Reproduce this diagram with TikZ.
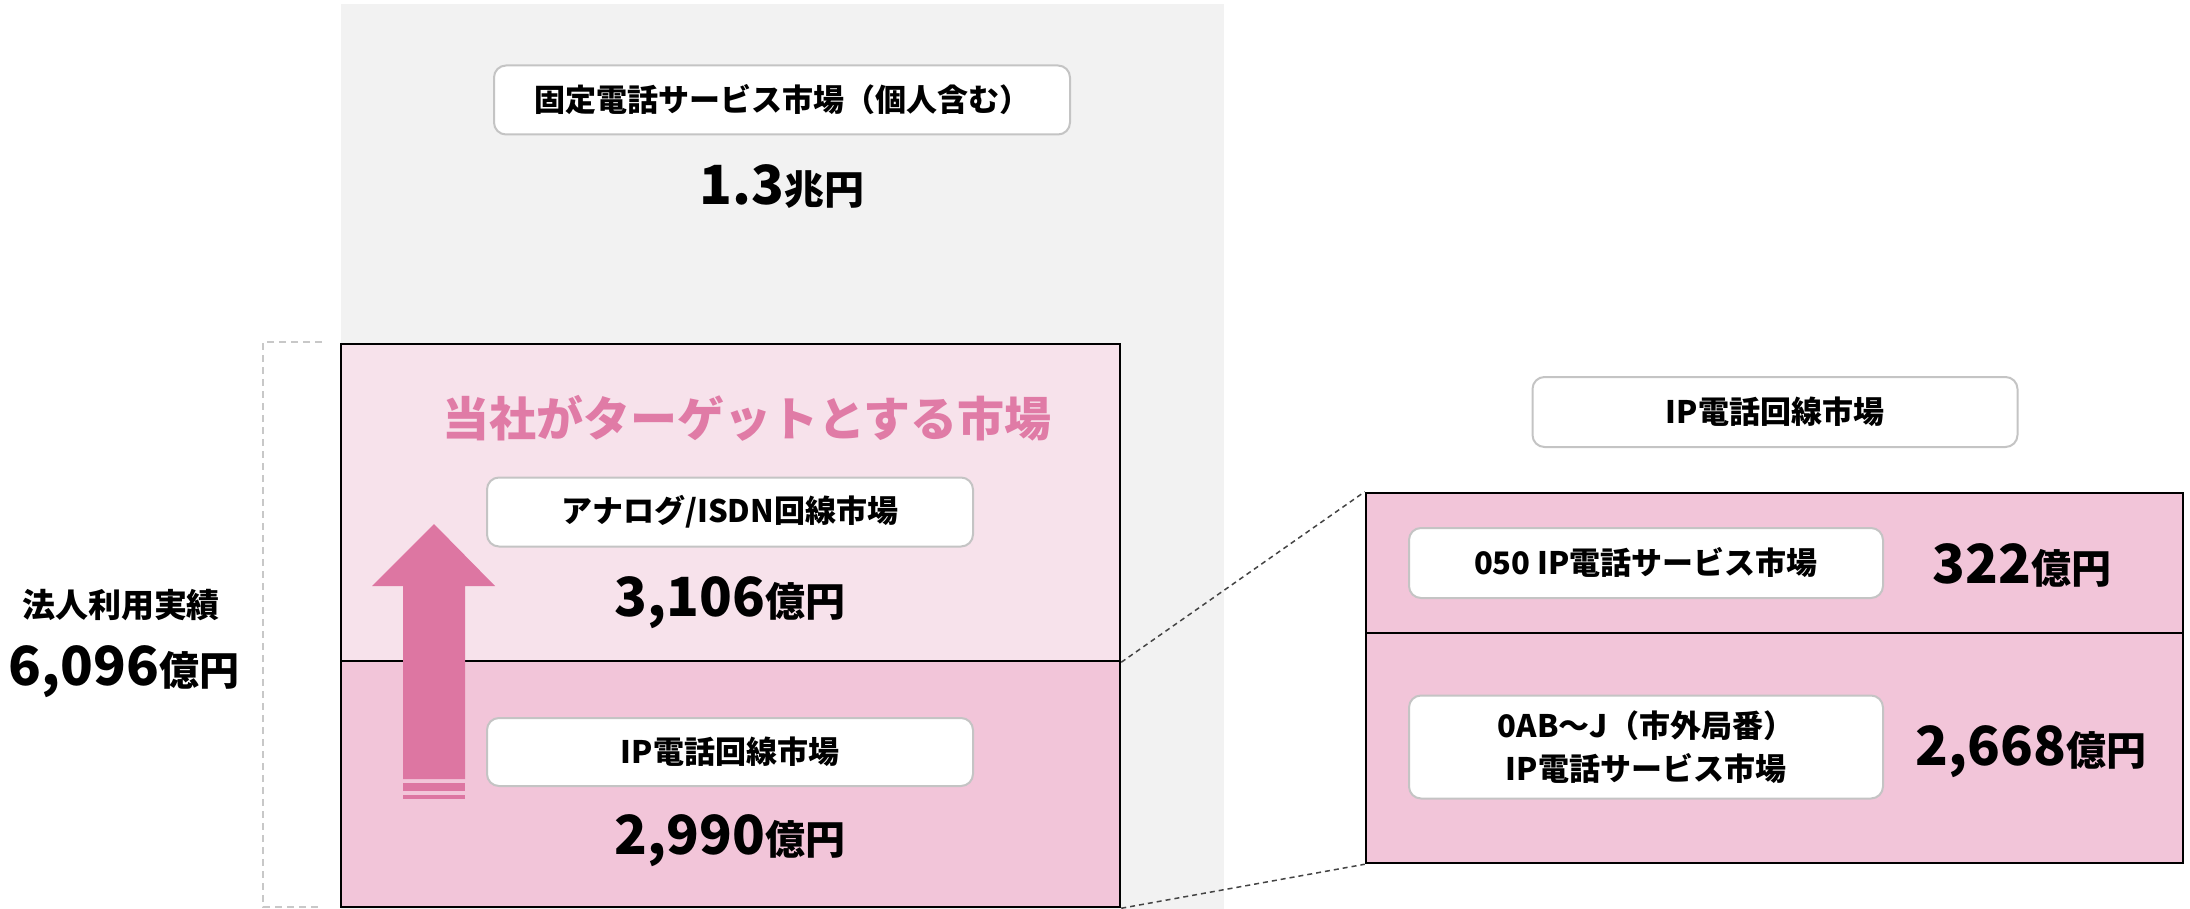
\documentclass[tikz,border=0pt]{standalone}
\usepackage{fontspec}
\setmainfont{Noto Sans CJK JP}
\definecolor{bggray}{HTML}{F2F2F2}
\definecolor{pinklight}{HTML}{F7E2EB}
\definecolor{pinkmid}{HTML}{F2C5D9}
\definecolor{arrowpink}{HTML}{DD76A2}
\definecolor{titlepink}{HTML}{E07BA6}
\definecolor{boxgray}{HTML}{C4C4C4}
\definecolor{brgray}{HTML}{C8C8C8}
\definecolor{conngray}{HTML}{444444}
\newcommand{\munit}[1]{{\fontsize{40}{44}\selectfont #1}}
\tikzset{
  lbl/.style={draw=boxgray, line width=2pt, fill=white, rounded corners=12pt,
    font=\bfseries\fontsize{31}{43}\selectfont, align=center, inner sep=0pt},
  region/.style={draw=black, line width=2.5pt, inner sep=0pt},
  bignum/.style={font=\bfseries\fontsize{54}{60}\selectfont, inner sep=0pt},
  plain/.style={inner sep=0pt},
  conn/.style={draw=conngray, line width=1.5pt, dash pattern=on 5pt off 4pt},
  bracket/.style={draw=brgray, line width=1.5pt, dash pattern=on 7pt off 5pt},
}
\begin{document}
\begin{tikzpicture}[x=1pt,y=-1pt]
\useasboundingbox[fill=white] (0,0) rectangle (2190,909);
% gray background
\fill[bggray] (341,4) rectangle (1224,909);
\node[lbl, minimum width=576pt, minimum height=69pt] (fixed) at (782,100) {固定電話サービス市場（個人含む）};
\node[bignum] (v13) at (782,187) {1.3\munit{兆円}};
% left bracket
\coordinate (bt) at (322,342);
\coordinate (bb) at (322,907);
\draw[bracket] (bt) -- (263,342) -- (263,907) -- (bb);
\node[plain, font=\bfseries\fontsize{33}{36}\selectfont] (hojin) at (121,605) {法人利用実績};
\node[bignum] (v6096) at (124,672) {6,096\munit{億円}};
% main target box
\node[region, fill=pinklight, minimum width=779pt, minimum height=317pt] (upper) at (730.5,502.5) {};
\node[region, fill=pinkmid, minimum width=779pt, minimum height=246pt] (lower) at (730.5,784) {};
% arrow
\fill[arrowpink] (434,524) -- (495,586) -- (465,586) -- (465,779) -- (403,779) -- (403,586) -- (372,586) -- cycle;
\fill[arrowpink] (403,783) rectangle (465,791);
\fill[arrowpink] (403,795) rectangle (465,799);
\node[plain, text=titlepink, font=\bfseries\fontsize{47}{52}\selectfont] (target) at (747,418) {当社がターゲットとする市場};
\node[lbl, minimum width=486pt, minimum height=69pt] (analog) at (730,512) {アナログ/ISDN回線市場};
\node[bignum] (v3106) at (730,603) {3,106\munit{億円}};
\node[lbl, minimum width=486pt, minimum height=68pt] (ipline) at (730,752) {IP電話回線市場};
\node[bignum] (v2990) at (730,841) {2,990\munit{億円}};
% right side
\node[lbl, minimum width=485pt, minimum height=70pt] (iphead) at (1775,412) {IP電話回線市場};
\node[region, fill=pinkmid, minimum width=817pt, minimum height=140pt] (r050) at (1774.5,563) {};
\node[region, fill=pinkmid, minimum width=817pt, minimum height=230pt] (r0ab) at (1774.5,748) {};
\node[lbl, minimum width=474pt, minimum height=70pt] (l050) at (1646,563) {050 IP電話サービス市場};
\node[bignum] (v322) at (2022,565) {322\munit{億円}};
\node[lbl, minimum width=474pt, minimum height=103pt] (l0ab) at (1646,747) {0AB～J（市外局番）\\IP電話サービス市場};
\node[bignum] (v2668) at (2031,752) {2,668\munit{億円}};
% connectors
\draw[conn] (upper.south east) -- (r050.north west);
\draw[conn] (lower.south east) -- (r0ab.south west);
\end{tikzpicture}
\end{document}
